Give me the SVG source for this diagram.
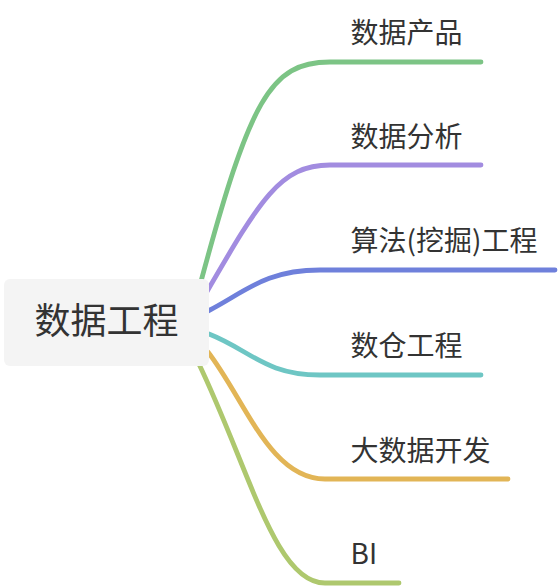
<svg xmlns="http://www.w3.org/2000/svg" width="558" height="588" viewBox="0 0 558 588">
<style>
.edge{fill:none;stroke-width:4.8;stroke-linecap:round;stroke-linejoin:round}
.lbl{font-family:"Microsoft YaHei","Noto Sans CJK SC","Noto Sans",sans-serif;font-size:28px;fill:#333333}
.root{font-family:"Microsoft YaHei","Noto Sans CJK SC","Noto Sans",sans-serif;font-size:36px;fill:#333333}
</style>
<rect width="558" height="588" fill="#ffffff"/>
<g id="connectors">
<path class="edge" stroke="#7cc485" d="M 200 285 C 250 100, 270 62, 330 62 L 481 62"/>
<path class="edge" stroke="#a28ce0" d="M 205 295 C 260 200, 280 165, 330 165 L 481 165"/>
<path class="edge" stroke="#6f80db" d="M 208 311 C 245 292, 265 270, 320 270 L 555 270"/>
<path class="edge" stroke="#6ec6c4" d="M 209 334 C 250 350, 265 375, 320 375 L 481 375"/>
<path class="edge" stroke="#e2b556" d="M 208 352 C 245 400, 270 479, 325 479 L 508 479"/>
<path class="edge" stroke="#aec86e" d="M 198 362 C 250 470, 275 583, 325 583 L 399 583"/>
</g>
<g id="root">
<rect x="4" y="279" width="205" height="87" rx="6" fill="#f4f4f4"/>
<text class="root" x="106.5" y="334" text-anchor="middle">数据工程</text>
</g>
<g id="n1"><text class="lbl" x="350.5" y="42.5">数据产品</text></g>
<g id="n2"><text class="lbl" x="350.5" y="146.5">数据分析</text></g>
<g id="n3"><text class="lbl" x="350.5" y="250.5">算法(挖掘)工程</text></g>
<g id="n4"><text class="lbl" x="350.5" y="355.5">数仓工程</text></g>
<g id="n5"><text class="lbl" x="350.5" y="460.5">大数据开发</text></g>
<g id="n6"><text class="lbl" x="350.5" y="563.5">BI</text></g>
</svg>
